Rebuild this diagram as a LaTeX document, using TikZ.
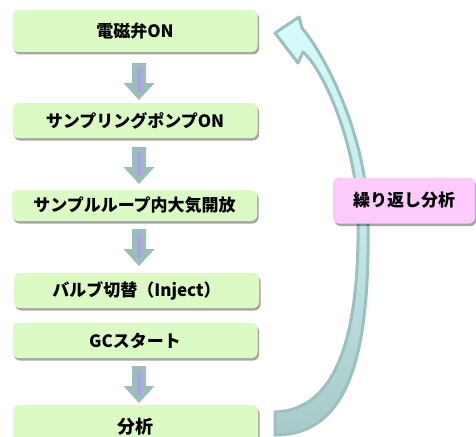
\documentclass[tikz,border=0pt]{standalone}
\usepackage{fontspec}
\setmainfont{Noto Sans CJK JP}
\usetikzlibrary{shadows,calc}
\definecolor{boxgreen}{HTML}{DCFBC4}
\definecolor{boxpink}{HTML}{FCCBFC}
\definecolor{arrgray}{HTML}{9DBDBB}
\definecolor{arrlav}{HTML}{A9A2E6}
\definecolor{curveline}{HTML}{9CC0BE}
\definecolor{curvetop}{HTML}{D6FCFC}
\definecolor{curvebot}{HTML}{A6CACA}
\tikzset{
  stepbox/.style={rounded corners=6pt, fill=boxgreen, inner sep=0pt,
    minimum width=245pt, font=\fontsize{17}{20}\selectfont\bfseries,
    drop shadow={shadow xshift=1.5pt, shadow yshift=-2.5pt, opacity=0.35, fill=black}},
  pinkbox/.style={stepbox, fill=boxpink, minimum width=142pt, minimum height=46pt},
  pics/downarr/.style={code={
    \fill[arrgray] (-7,0) -- (7,0) -- (7,20) -- (15.5,20) -- (0,37) -- (-15.5,20) -- (-7,20) -- cycle;
    \draw[arrlav, line width=3.5pt] (0,5) -- (0,29);
  }}
}
\begin{document}
\begin{tikzpicture}[x=1pt,y=-1pt]
\useasboundingbox (0,0) rectangle (476,436);
\clip (0,0) rectangle (476,436);
% curved return arrow
\path[draw=curveline, line width=3pt, line join=round, top color=curvetop, bottom color=curvebot, middle color=curvetop!60!curvebot]
  (275,435) .. controls (355,435) and (370,340) .. (368,215)
  .. controls (366,135) and (325,55) .. (302,28)
  -- (299,17) -- (275,33) -- (298,63) -- (303,52)
  .. controls (322,68) and (356,140) .. (358,215)
  .. controls (360,340) and (335,410) .. (275,412) -- cycle;
% step boxes
\node[stepbox, minimum height=42pt] (b1) at (135,31) {電磁弁ON};
\node[stepbox, minimum height=35pt] (b2) at (135,120.5) {サンプリングポンプON};
\node[stepbox, minimum height=31pt] (b3) at (134.5,205.5) {サンプルループ内大気開放};
\node[stepbox, minimum height=35pt] (b4) at (136.5,290.5) {バルブ切替（Inject）};
\node[stepbox, minimum height=35pt] (b5) at (135,340.5) {GCスタート};
\node[stepbox, minimum height=44pt, font=\fontsize{18}{20}\selectfont\bfseries] (b6) at (135.5,427) {\raisebox{-2pt}{分析}};
\node[pinkbox] (rep) at (404,200.5) {繰り返し分析};
% down block arrows
\pic at (139,63) {downarr};
\pic at (139,147) {downarr};
\pic at (139,229) {downarr};
\pic at (139,366) {downarr};
\end{tikzpicture}
\end{document}
